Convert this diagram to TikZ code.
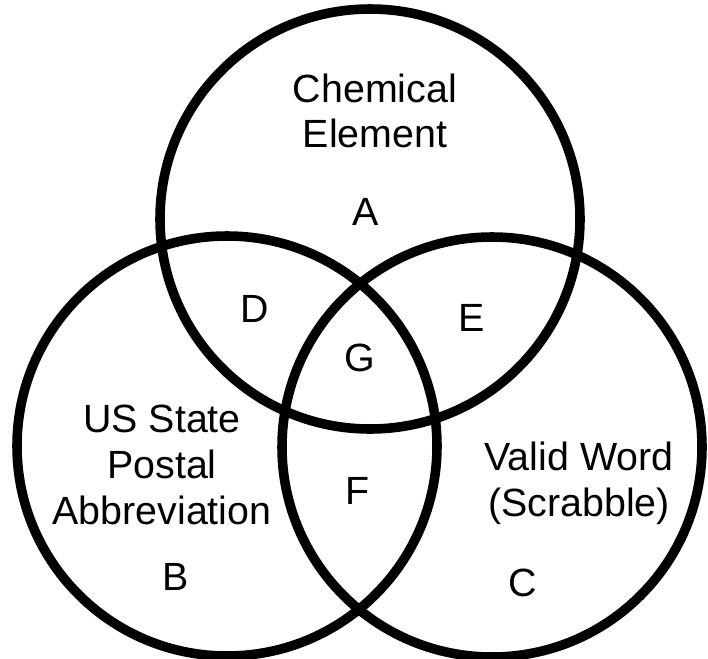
\documentclass[tikz,border=0pt]{standalone}
\usepackage{fontspec}
\setmainfont{Liberation Sans}
\usetikzlibrary{positioning}

\begin{document}
\begin{tikzpicture}[x=0.025cm, y=-0.025cm,
        set/.style={line width=6.8pt},
        lbl/.style={font=\fontsize{28}{32.5}\selectfont, align=center, inner sep=0pt}]
                \useasboundingbox (0, 0) rectangle (708, 658);

                \coordinate (chem) at (370, 219);
                \coordinate (usps) at (227, 446);
                \coordinate (word) at (492, 447);

                \draw[set] (chem) circle (210);
                \draw[set] (usps) circle (210);
                \draw[set] (word) circle (210);

                \node[lbl] (chemlbl) at (375, 111) {Chemical\\Element};
                \node[lbl] (uspslbl) at (162, 465) {US State\\Postal\\Abbreviation};
                \node[lbl] (wordlbl) at (579, 483) {Valid Word\\(Scrabble)};

                \node[lbl] (a) at (366, 212) {A};
                \node[lbl] (b) at (176, 577) {B};
                \node[lbl] (c) at (523, 583) {C};
                \node[lbl] (d) at (255, 309) {D};
                \node[lbl] (e) at (472, 318) {E};
                \node[lbl] (f) at (358, 491) {F};
                \node[lbl] (g) at (360, 358) {G};
            \end{tikzpicture}
\end{document}
